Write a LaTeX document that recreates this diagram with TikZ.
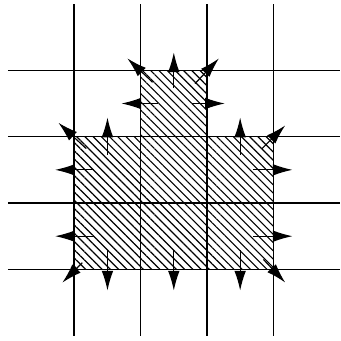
\documentclass[tikz,border=0pt]{standalone}
\usetikzlibrary{arrows.meta, patterns.meta}

\begin{document}
\begin{tikzpicture}[
    gridline/.style={line width=0.7pt},
    outarrow/.style={-{Latex[length=8.5pt,width=5pt]}, line width=0.5pt},
    hatched/.style={pattern={Lines[angle=-45,distance=2.5pt,line width=0.5pt]}}]
  \useasboundingbox (-0.12,-0.07) rectangle (5.02,5.06);
  % shaded cells
  \fill[hatched] (1,1) rectangle (4,3) (2,3) rectangle (3,4);
  % grid
  \foreach \i in {1,...,4} {
    \draw[gridline] (\i,0) -- (\i,5);
    \draw[gridline] (0,\i) -- (5,\i);
  }
  % arrows across the edges
  \foreach \x in {1.5,2.5,3.5} \draw[outarrow] (\x,1.29) -- (\x,0.68);
  \foreach \x in {1.5,3.5} \draw[outarrow] (\x,2.73) -- (\x,3.29);
  \draw[outarrow] (2.5,3.73) -- (2.5,4.27);
  \foreach \y in {1.5,2.5} {
    \draw[outarrow] (1.29,\y) -- (0.71,\y);
    \draw[outarrow] (3.7,\y) -- (4.29,\y);
  }
  \draw[outarrow] (2.26,3.5) -- (1.71,3.5);
  \draw[outarrow] (2.77,3.5) -- (3.27,3.5);
  % arrows at the corners
  \draw[outarrow] (2.18,3.82) -- (1.8,4.18);
  \draw[outarrow] (2.82,3.8) -- (3.18,4.18);
  \draw[outarrow] (1.18,2.82) -- (0.76,3.21);
  \draw[outarrow] (3.83,2.82) -- (4.18,3.17);
  \draw[outarrow] (1.12,1.1) -- (0.82,0.8);
  \draw[outarrow] (3.85,1.15) -- (4.18,0.8);
\end{tikzpicture}
\end{document}
